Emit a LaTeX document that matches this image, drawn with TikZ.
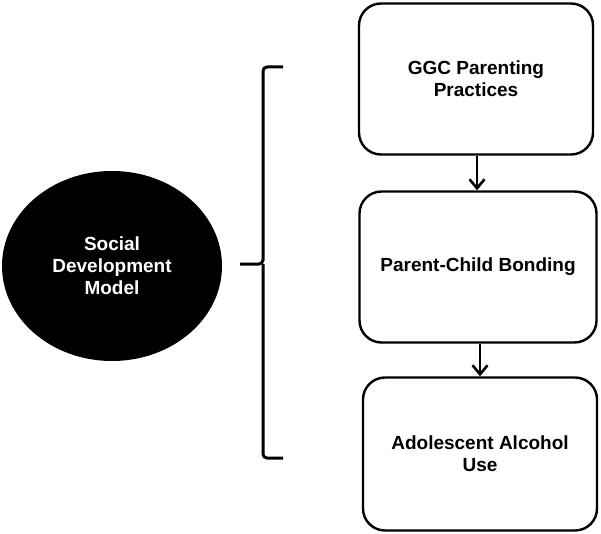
\documentclass[tikz,border=0pt]{standalone}
\usepackage{fontspec}
\setmainfont{Liberation Sans}
\usepackage{tikz}
\usetikzlibrary{arrows.meta,positioning,shapes.geometric}

\begin{document}
\begin{tikzpicture}[
  x=1pt,y=-1pt,
  box/.style={rounded corners=22pt,draw=black,line width=2.4pt,align=center,
              minimum width=234pt,minimum height=151pt,inner sep=0pt,
              font=\fontsize{19}{22}\selectfont\bfseries},
  model/.style={ellipse,fill=black,text=white,align=center,inner sep=0pt,
                minimum width=220pt,minimum height=190pt,
                font=\fontsize{19}{22}\selectfont\bfseries},
  arrow/.style={-{Straight Barb[length=9pt,width=15pt,line width=2.6pt]},line width=2.8pt,draw=black},
  bracket/.style={line width=3pt,rounded corners=4pt,draw=black}
]
\useasboundingbox (0,0) rectangle (601,534);
\node[model] (sdm) at (112,266) {Social\\Development\\Model};
\node[box] (ggc) at (476,79) {GGC Parenting\\Practices};
\node[box,minimum width=237pt] (bond) at (478,267) {Parent-Child Bonding};
\node[box,minimum height=153pt] (use) at (480,454) {Adolescent Alcohol\\Use};
\draw[arrow] ([xshift=1pt]ggc.south)--([xshift=1pt]ggc.south |- bond.north);
\draw[arrow] ([xshift=2pt]bond.south)--([xshift=2pt]bond.south |- use.north);
% bracket
\coordinate (btop) at (283,67);
\coordinate (bmid) at (263,264);
\coordinate (btip) at (240,264);
\coordinate (bbot) at (283,458);
\draw[bracket] (btop) -| (bmid) -- (btip);
\draw[bracket] (bmid) |- (bbot);
\end{tikzpicture}
\end{document}
